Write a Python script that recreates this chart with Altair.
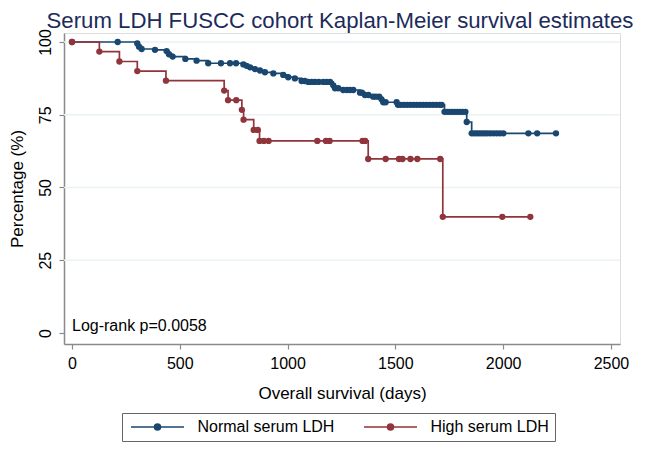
import altair as alt
import pandas as pd

# ---- data ----
NORMAL_LABEL = "Normal serum LDH"
HIGH_LABEL = "High serum LDH"

NORMAL_DAYS = [0, 212, 303, 311, 323, 385, 439, 450, 467, 526, 578, 632, 691, 733, 761,
               795, 810, 826, 849, 872, 895, 934, 980, 1003, 1034, 1065, 1080, 1096, 1112,
               1127, 1145, 1166, 1182, 1197, 1212, 1220, 1235, 1258, 1275, 1290, 1305, 1336,
               1345, 1359, 1375, 1397, 1410, 1425, 1436, 1444, 1455, 1506, 1512, 1525, 1540,
               1555, 1570, 1585, 1600, 1615, 1630, 1645, 1660, 1675, 1690, 1705, 1715, 1728,
               1740, 1752, 1764, 1776, 1788, 1800, 1812, 1825, 1831, 1854, 1866, 1878, 1890,
               1902, 1914, 1926, 1940, 1955, 1970, 1985, 2001, 2117, 2158, 2245]
NORMAL_SURV = [100, 100, 99.5, 98.4, 97.6, 97.3, 96.9, 95.8, 95.0, 94.2, 93.6, 92.7, 92.7, 92.7, 92.7,
               92.3, 91.8, 91.3, 90.7, 90.2, 89.6, 89.2, 88.7, 87.9, 87.5, 86.6, 86.6, 86.3, 86.3,
               86.3, 86.3, 86.3, 86.3, 86.3, 85.1, 84.1, 84.1, 83.5, 83.5, 83.5, 83.5, 82.6,
               82.6, 81.8, 81.8, 81.2, 81.2, 81.2, 80.3, 79.3, 79.3, 79.3, 78.4, 78.4, 78.4,
               78.4, 78.4, 78.4, 78.4, 78.4, 78.4, 78.4, 78.4, 78.4, 78.4, 78.4, 78.4, 76.0,
               76.0, 76.0, 76.0, 76.0, 76.0, 76.0, 76.0, 76.0, 72.5, 68.6, 68.6, 68.6, 68.6,
               68.6, 68.6, 68.6, 68.6, 68.6, 68.6, 68.6, 68.6, 68.6, 68.6, 68.6]

HIGH_DAYS = [0, 127, 220, 303, 436, 706, 724, 762, 788, 796, 843, 862, 870, 890, 912,
             1138, 1178, 1195, 1348, 1360, 1374, 1455, 1517, 1533, 1570, 1602, 1708,
             1720, 1996, 2126]
HIGH_SURV = [100, 96.7, 93.3, 90.0, 86.7, 83.3, 80.0, 80.0, 76.7, 73.3, 69.8, 69.8, 66.0, 66.0, 66.0,
             66.0, 66.0, 66.0, 66.0, 66.0, 59.8, 59.8, 59.8, 59.8, 59.8, 59.8, 59.8,
             39.9, 39.9, 39.9]

Y_TICKS = [0, 25, 50, 75, 100]
X_TICKS = [0, 500, 1000, 1500, 2000, 2500]
GRID_VALUES = [25, 50, 75, 100]

TITLE = "Serum LDH FUSCC cohort Kaplan-Meier survival estimates"
X_TITLE = "Overall survival (days)"
Y_TITLE = "Percentage (%)"
NOTE = "Log-rank p=0.0058"

# ---- build table ----
df = pd.concat([
    pd.DataFrame({"days": NORMAL_DAYS, "surv": NORMAL_SURV, "group": NORMAL_LABEL}),
    pd.DataFrame({"days": HIGH_DAYS, "surv": HIGH_SURV, "group": HIGH_LABEL}),
], ignore_index=True)
grid_df = pd.DataFrame({"g": GRID_VALUES})

FONT = "Liberation Sans"
BLUE = "#1a476f"
RED = "#90353b"

xscale = alt.Scale(domain=[-37, 2542], nice=False, zero=False)
yscale = alt.Scale(domain=[-3.8, 103.1], nice=False, zero=False)
cscale = alt.Scale(domain=[NORMAL_LABEL, HIGH_LABEL], range=[BLUE, RED])

# legend glyph: a line with a filled dot (dot drawn as concentric rings)
LEGEND_SYMBOL = ("M-5.3,0L5.3,0"
                 "M0.6,0A0.6,0.6,0,1,1,-0.6,0A0.6,0.6,0,1,1,0.6,0"
                 "M0.32,0A0.32,0.32,0,1,1,-0.32,0A0.32,0.32,0,1,1,0.32,0"
                 "M0.08,0A0.08,0.08,0,1,1,-0.08,0A0.08,0.08,0,1,1,0.08,0")

x_axis = alt.Axis(values=X_TICKS, title=X_TITLE, grid=False, tickSize=5, labelPadding=6,
                  format="d",
                  labelFontSize=16, labelFont=FONT, labelColor="black",
                  titleFontSize=17, titleFont=FONT, titleColor="black", titleFontWeight="normal",
                  titlePadding=14, domainColor="#8a8a8a", domainWidth=1.5, tickColor="#8a8a8a",
                  tickWidth=1.2, labelFlush=False)
y_axis = alt.Axis(values=Y_TICKS, title=Y_TITLE, grid=False, tickSize=5, labelPadding=6,
                  labelAngle=270, labelAlign="center", labelBaseline="bottom",
                  labelFontSize=16, labelFont=FONT, labelColor="black",
                  titleFontSize=17, titleFont=FONT, titleColor="black", titleFontWeight="normal",
                  titlePadding=11, domainColor="#8a8a8a", domainWidth=1.5, tickColor="#8a8a8a",
                  tickWidth=1.2, labelFlush=False)

grid = alt.Chart(grid_df).mark_rule(color="#eaf2f3", strokeWidth=1.5).encode(
    y=alt.Y("g:Q", scale=yscale, axis=y_axis)
)

lines = alt.Chart(df).mark_line(interpolate="step-after", strokeWidth=1.7).encode(
    x=alt.X("days:Q", scale=xscale, axis=x_axis),
    y=alt.Y("surv:Q", scale=yscale, axis=y_axis),
    color=alt.Color("group:N", scale=cscale, legend=alt.Legend(
        title=None, orient="none", legendX=58, legendY=380, direction="horizontal",
        symbolType=LEGEND_SYMBOL, symbolSize=100, symbolStrokeWidth=1.5,
        symbolOffset=21.5,
        labelFontSize=16, labelFont=FONT, labelColor="black", labelOffset=32,
        labelExpr=("datum.value == '" + HIGH_LABEL + "' ? datum.label + '"
                   + "\u2003\u2005" + "' : datum.label"),
        columnPadding=26, gridAlign="all", padding=6, strokeColor="#666666",
        fillColor="white", labelLimit=400)),
    detail="group:N",
)

points = alt.Chart(df).mark_circle(size=40, opacity=1).encode(
    x=alt.X("days:Q", scale=xscale),
    y=alt.Y("surv:Q", scale=yscale),
    color=alt.Color("group:N", scale=cscale, legend=None),
)

note = alt.Chart().mark_text(align="left", baseline="middle", fontSize=16, font=FONT,
                             color="black").encode(
    x=alt.datum(0), y=alt.datum(2.5), text=alt.value(NOTE)
)

chart = alt.layer(grid, lines, points, note).properties(
    width=556, height=311,
    title=alt.Title(TITLE, fontSize=22.2, font=FONT, color="#1c2b5a", fontWeight="normal",
                    anchor="middle", offset=-4, dx=-2),
    autosize=alt.AutoSizeParams(type="none"),
    padding={"left": 56, "top": 25, "right": 18, "bottom": 99},
).configure_view(stroke=None).configure(background="white")

chart.save("out.html", embed_options={"renderer": "svg", "actions": False})
